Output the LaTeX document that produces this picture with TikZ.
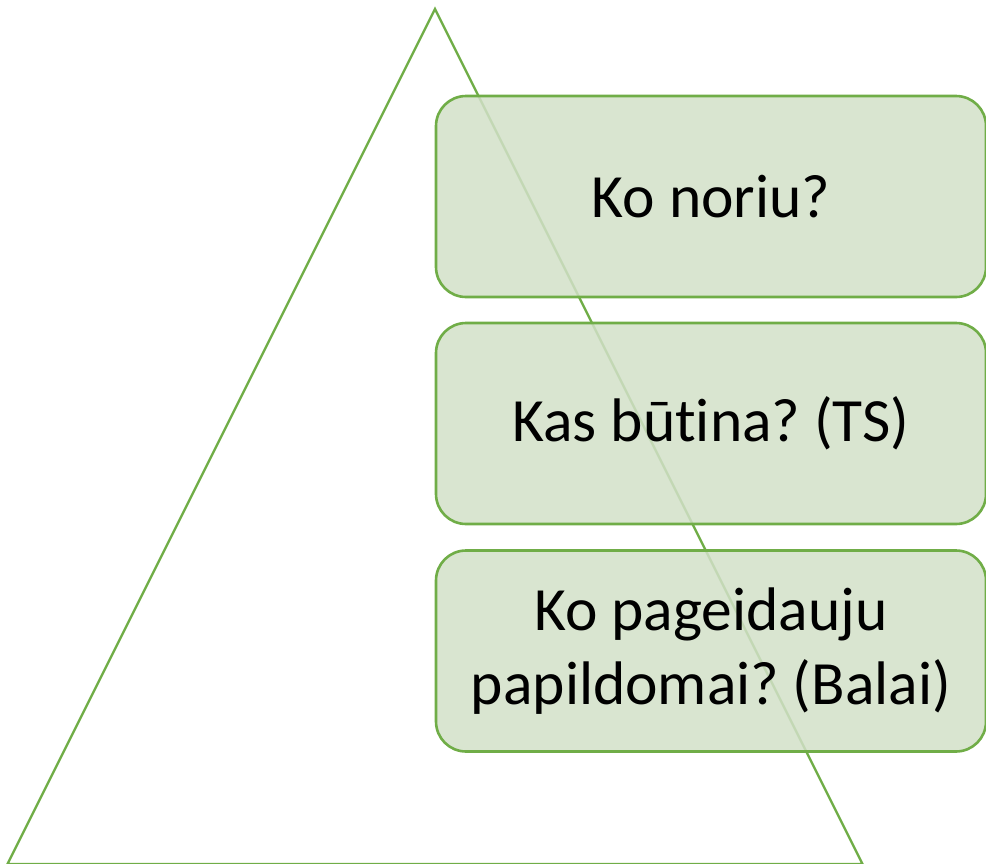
\documentclass[tikz,border=0pt]{standalone}
\usepackage{fontspec}
\setmainfont[Ligatures={NoCommon}]{Carlito}
\frenchspacing
\definecolor{gborder}{HTML}{70AD47}
\definecolor{gfill}{HTML}{D2E0C8}
\begin{document}
\begin{tikzpicture}[x=1pt,y=-1pt,
  box/.style={draw=gborder,line width=2.6pt,fill=gfill,fill opacity=0.85,text opacity=1,
    rounded corners=30pt,minimum width=550pt,minimum height=201pt,inner sep=0pt,
    align=center,font=\fontsize{61.5}{74}\selectfont,text=black},
  tri/.style={draw=gborder,line width=2.4pt,line join=miter}]
\useasboundingbox (0,0) rectangle (986,863);
\coordinate (apex) at (435,9);
\coordinate (bl) at (7.5,864);
\coordinate (br) at (862.5,864);
\draw[tri] (bl) -- (apex) -- (br) -- cycle;
\node[box] (b1) at (711,196.5) {Ko noriu?};
\node[box] (b2) at (711,423.5) {Kas būtina? (TS)};
\node[box] (b3) at (711,651) {Ko pageidauju\\papildomai? (Balai)};
\end{tikzpicture}
\end{document}
